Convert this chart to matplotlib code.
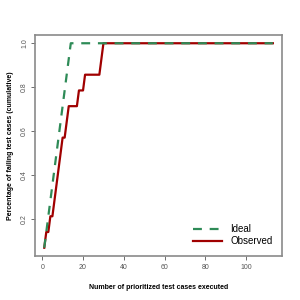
import numpy as np
import matplotlib
matplotlib.use("Agg")
from matplotlib import pyplot as plt

plt.rcParams['font.family'] = ['Liberation Sans', 'DejaVu Sans']

n_fail = 14
n_tests = 113

# cumulative number of failing tests found at each prioritized test (first 30), then stays at 14
obs_found = [1, 2, 2, 3, 3, 4, 5, 6, 7, 8, 8, 9, 10, 10, 10, 10, 10, 11, 11, 11,
             12, 12, 12, 12, 12, 12, 12, 12, 13, 14]
ideal_found = list(range(1, n_fail + 1))

x = np.arange(1, n_tests + 1)
obs = np.array(obs_found + [n_fail] * (n_tests - len(obs_found))) / n_fail
ideal = np.array(ideal_found + [n_fail] * (n_tests - len(ideal_found))) / n_fail

fig = plt.figure(figsize=(3, 3), dpi=100)
ax = fig.add_axes([0.117, 0.147, 0.823, 0.736])

ax.plot(x, ideal, color='#2e8b57', lw=1.6, ls=(0, (4, 3.5)), label='Ideal', zorder=3)
ax.plot(x, obs, color='#a00000', lw=1.6, label='Observed', zorder=2)

ax.set_xlim(-3.48, 117.48)
ax.set_ylim(0.0343, 1.037)
ax.set_xticks([0, 20, 40, 60, 80, 100])
ax.set_yticks([0.2, 0.4, 0.6, 0.8, 1.0])
ax.set_yticklabels(['0.2', '0.4', '0.6', '0.8', '1.0'], rotation=90, va='center')

for s in ax.spines.values():
    s.set_color('#8a8a8a')
    s.set_linewidth(1.2)
ax.tick_params(labelsize=5, colors='#555555', length=3, width=0.6, pad=3)
ax.tick_params(axis='y', pad=2)

ax.set_xlabel('Number of prioritized test cases executed', fontsize=5, fontweight='bold', labelpad=9)
ax.set_ylabel('Percentage of failing test cases (cumulative)', fontsize=5, fontweight='bold', labelpad=5)

ax.legend(loc='lower right', frameon=False, fontsize=7, handlelength=3,
          borderaxespad=0.6, labelspacing=0.2, handletextpad=0.8)

fig.savefig('out.png', dpi=100)
